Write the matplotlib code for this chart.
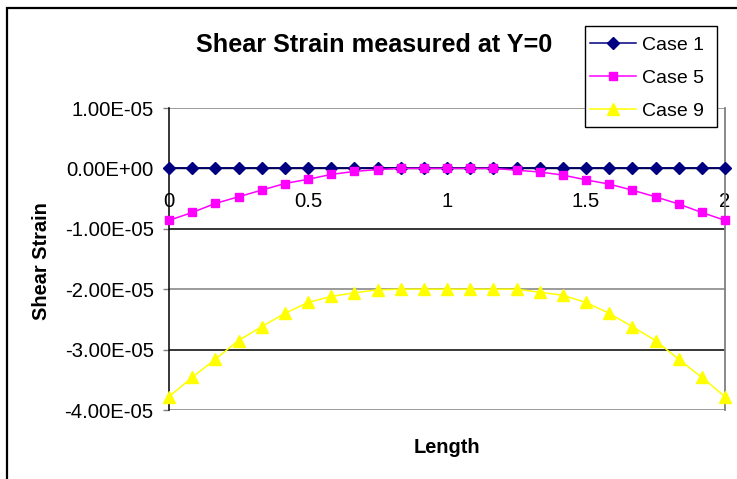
import matplotlib
matplotlib.use("Agg")
import matplotlib.pyplot as plt
from matplotlib.patches import Rectangle
import numpy as np

plt.rcParams['font.family'] = ['Liberation Sans', 'DejaVu Sans']

# Data: 25 points from 0 to 2 (step 1/12)
length = [i / 12 for i in range(25)]
case1 = [0.0] * 25
case5 = [-0.86, -0.73, -0.58, -0.47, -0.36, -0.25, -0.18, -0.10, -0.05, -0.02, 0.0, 0.0, 0.0,
         0.0, 0.0, -0.03, -0.06, -0.11, -0.19, -0.26, -0.36, -0.47, -0.59, -0.73, -0.86]
case9 = [-3.78, -3.46, -3.16, -2.85, -2.62, -2.40, -2.22, -2.12, -2.06, -2.01, -2.0, -2.0, -2.0,
         -2.0, -2.0, -2.0, -2.05, -2.10, -2.22, -2.40, -2.62, -2.85, -3.16, -3.46, -3.78]
case5 = [v * 1e-5 for v in case5]
case9 = [v * 1e-5 for v in case9]

yticks = [1e-5, 0.0, -1e-5, -2e-5, -3e-5, -4e-5]
ytick_labels = ["1.00E-05", "0.00E+00", "-1.00E-05", "-2.00E-05", "-3.00E-05", "-4.00E-05"]
xticks = [0, 0.5, 1, 1.5, 2]
xtick_labels = ["0", "0.5", "1", "1.5", "2"]

W, H = 737, 479
fig = plt.figure(figsize=(W / 100, H / 100), dpi=100)
fig.patch.set_facecolor('white')

# outer chart border
fig.patches.append(Rectangle((7 / W, -0.1), 1.2, 1 - 8 / H + 0.1, transform=fig.transFigure,
                             fill=False, edgecolor='black', linewidth=1.6, zorder=0))

ax = fig.add_axes([169 / W, 1 - 410 / H, 556 / W, 302 / H])
ax.set_xlim(0, 2)
ax.set_ylim(-4e-5, 1e-5)

grid_colors = ['#808080', '#000000', '#000000', '#808080', '#000000', '#808080']
for yv, c in zip(yticks, grid_colors):
    ax.axhline(yv, color=c, linewidth=1.1, zorder=1)

ax.plot(length, case1, color='#000080', marker='D', markersize=6.2, linewidth=1.1,
        label='Case 1', zorder=3, clip_on=False)
ax.plot(length, case5, color='#FF00FF', marker='s', markersize=6.0, linewidth=1.1,
        label='Case 5', zorder=4, clip_on=False)
ax.plot(length, case9, color='#FFFF00', marker='^', markersize=8.5, linewidth=1.1,
        label='Case 9', zorder=4, clip_on=False)

for s in ['top', 'bottom']:
    ax.spines[s].set_visible(False)
ax.spines['right'].set_color('#808080')
ax.spines['right'].set_linewidth(1.3)
ax.spines['left'].set_color('black')
ax.spines['left'].set_linewidth(1.1)

ax.set_yticks(yticks)
ax.set_yticklabels(ytick_labels)
ax.tick_params(axis='y', direction='out', length=4.5, width=1, color='#808080',
               pad=6.5, labelsize=14.6)
ax.set_xticks(xticks)
ax.set_xticklabels(xtick_labels)
ax.tick_params(axis='x', length=0, labelsize=14.6)
ax.xaxis.set_ticks_position('bottom')
ax.spines['bottom'].set_position(('data', 0))
ax.spines['bottom'].set_visible(True)
ax.spines['bottom'].set_color('black')
ax.spines['bottom'].set_linewidth(1.0)
ax.tick_params(axis='x', pad=17)

fig.text(374 / W, 1 - 51.7 / H, "Shear Strain measured at Y=0", ha='center', va='baseline',
         fontsize=18.2, fontweight='bold')
fig.text(447 / W, 1 - 452.7 / H, "Length", ha='center', va='baseline',
         fontsize=14.4, fontweight='bold')
fig.text(41.5 / W, 1 - 261 / H, "Shear Strain", ha='center', va='center', rotation=90,
         fontsize=14.4, fontweight='bold')

# legend frame
fig.patches.append(Rectangle((585 / W, 1 - 127 / H), 132 / W, 101 / H, transform=fig.transFigure,
                             facecolor='white', edgecolor='black', linewidth=1.0, zorder=5))
leg = fig.legend(loc='upper left', bbox_to_anchor=(590 / W, 1 - 36 / H), fontsize=14,
                 frameon=False, borderaxespad=0, handlelength=2.35, handletextpad=0.3,
                 labelspacing=0.8, borderpad=0)
leg.set_zorder(6)

fig.savefig("out.png", dpi=100)
